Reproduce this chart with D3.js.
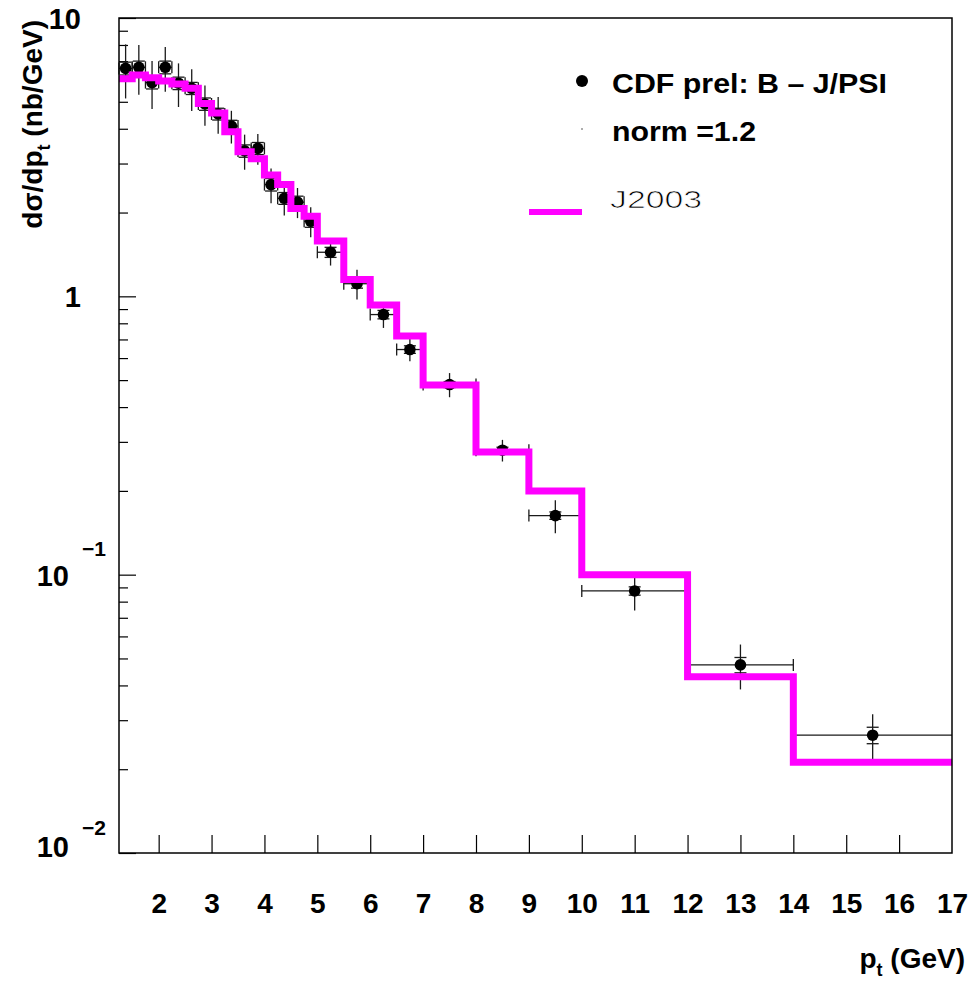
<!DOCTYPE html>
<html>
<head>
<meta charset="utf-8">
<script src="https://cdn.jsdelivr.net/npm/d3@7"></script>
<style>
  html, body { margin: 0; padding: 0; background: #fff; }
  svg { display: block; }
  text { font-family: "Liberation Sans", Arial, Helvetica, sans-serif; fill: #000; }
</style>
</head>
<body>
<svg id="chart" width="979" height="988"></svg>
<script>
// pt bin edges (GeV) shared by the measurement and the prediction
const binEdges = [1.25, 1.5, 1.75, 2, 2.25, 2.5, 2.75, 3, 3.25, 3.5, 3.75, 4, 4.25, 4.5, 4.75, 5,
                  5.5, 6, 6.5, 7, 8, 9, 10, 12, 14, 17];

// J2003 prediction, dsigma/dpt (nb/GeV) per bin
const j2003 = [6.05, 6.24, 6.10, 5.94, 5.79, 5.59, 4.93, 4.56, 3.90, 3.31, 3.12, 2.73, 2.52, 2.07, 1.94,
               1.58, 1.15, 0.93, 0.72, 0.48, 0.276, 0.20, 0.10, 0.043, 0.0212];

// CDF preliminary B -> J/psi points
const cdfPt   = [1.375, 1.625, 1.875, 2.125, 2.375, 2.625, 2.875, 3.125, 3.375, 3.625, 3.875, 4.125, 4.375,
                 4.625, 4.875, 5.25, 5.75, 6.25, 6.75, 7.5, 8.5, 9.5, 11, 13, 15.5];
const cdfY    = [6.59, 6.65, 5.86, 6.65, 5.83, 5.59, 4.91, 4.52, 4.09, 3.33, 3.40, 2.52, 2.25, 2.18, 1.86,
                 1.44, 1.11, 0.86, 0.644, 0.482, 0.280, 0.163, 0.0874, 0.0474, 0.0265];
const cdfStat = [0.35, 0.35, 0.30, 0.35, 0.30, 0.28, 0.25, 0.22, 0.20, 0.17, 0.17, 0.13, 0.11, 0.11, 0.09,
                 0.06, 0.04, 0.03, 0.02, 0.012, 0.007, 0.005, 0.003, 0.003, 0.0018];
const cdfTot  = [1.45, 1.35, 1.15, 1.22, 1.04, 0.96, 0.81, 0.68, 0.55, 0.48, 0.43, 0.36, 0.30, 0.27, 0.23,
                 0.15, 0.136, 0.09, 0.06, 0.048, 0.025, 0.022, 0.013, 0.0087, 0.005];

// axis ticks and labels
const xTicks = [2, 3, 4, 5, 6, 7, 8, 9, 10, 11, 12, 13, 14, 15, 16, 17];
const yMajor = [0.01, 0.1, 1, 10];
const yMinor = [0.02, 0.03, 0.04, 0.05, 0.06, 0.07, 0.08, 0.09,
                0.2, 0.3, 0.4, 0.5, 0.6, 0.7, 0.8, 0.9,
                2, 3, 4, 5, 6, 7, 8, 9];
const yLabelBase = ["10", "10", "1", "10"];
const yLabelExp  = ["\u22122", "\u22121", "", ""];

const legendData  = "CDF prel: B \u2013 J/PSI";
const legendNorm  = "norm =1.2";
const legendModel = "J2003";

// ---------------------------------------------------------------
const svg = d3.select("#chart");
const L = 119, R = 952, T = 18, B = 853;

const x = d3.scaleLinear().domain([1.25, 17]).range([L, R]);
const y = d3.scaleLog().domain([0.01, 10]).range([B, T]);

// x axis: ticks pointing into the frame
const xAxis = d3.axisBottom(x)
  .tickValues(xTicks)
  .tickSizeInner(-18)
  .tickSizeOuter(0)
  .tickPadding(40)
  .tickFormat(d3.format("d"));
const gx = svg.append("g").attr("transform", `translate(0,${B})`).call(xAxis);
gx.select(".domain").remove();
gx.selectAll(".tick line").attr("stroke", "#000").attr("stroke-width", 1.2)
  .filter(d => d === 17).remove();
gx.selectAll(".tick text")
  .attr("font-size", 28).attr("font-weight", "bold")
  .attr("font-family", "'Liberation Sans', Arial, sans-serif");

// y axis: long decade ticks, short minor ticks
const yAxisMajor = d3.axisLeft(y).tickValues(yMajor).tickSizeInner(-17).tickSizeOuter(0).tickFormat("");
const yAxisMinor = d3.axisLeft(y).tickValues(yMinor).tickSizeInner(-9).tickSizeOuter(0).tickFormat("");
const gy1 = svg.append("g").attr("transform", `translate(${L},0)`).call(yAxisMajor);
const gy2 = svg.append("g").attr("transform", `translate(${L},0)`).call(yAxisMinor);
[gy1, gy2].forEach(g => {
  g.select(".domain").remove();
  g.selectAll(".tick line").attr("stroke", "#000").attr("stroke-width", 1.2);
});

// y tick labels, with raised exponents for the sub-unit decades
const yLab = svg.append("g").attr("class", "ylabels");
yMajor.forEach((v, i) => {
  const base = yLabelBase[i], exp = yLabelExp[i];
  if (exp) {
    const dyBase = v === 0.01 ? 4 : 11;
    const dyExp  = v === 0.01 ? -22 : -30;
    yLab.append("text")
      .attr("x", 69).attr("y", y(v) + dyBase)
      .attr("text-anchor", "end")
      .attr("font-size", 29).attr("font-weight", "bold")
      .text(base);
    yLab.append("text")
      .attr("x", 82).attr("y", y(v) + dyBase + dyExp)
      .attr("font-size", 21).attr("font-weight", "bold")
      .text(exp);
  } else {
    yLab.append("text")
      .attr("x", 81).attr("y", y(v) + 10.5)
      .attr("text-anchor", "end")
      .attr("font-size", 29).attr("font-weight", "bold")
      .text(base);
  }
});

// axis titles
const xt = svg.append("text")
  .attr("x", 965).attr("y", 968)
  .attr("text-anchor", "end")
  .attr("font-size", 28).attr("font-weight", "bold");
xt.append("tspan").text("p");
xt.append("tspan").attr("font-size", 18).attr("dy", 8).text("t");
xt.append("tspan").attr("dy", -8).text(" (GeV)");

const yt = svg.append("text")
  .attr("transform", "translate(42,20) rotate(-90)")
  .attr("text-anchor", "end")
  .attr("font-size", 28).attr("font-weight", "bold");
yt.append("tspan").text("d\u03c3/dp");
yt.append("tspan").attr("font-size", 18).attr("dy", 8).text("t");
yt.append("tspan").attr("dy", -8).text(" (nb/GeV)");

// ---------------------------------------------------------------
// measurement: error bars then markers
const plot = svg.append("g");
const pts = cdfPt.map((p, i) => ({
  p, v: cdfY[i], s: cdfStat[i], t: cdfTot[i], lo: binEdges[i], hi: binEdges[i + 1]
}));
const cap = 6;
const eb = plot.append("g").attr("stroke", "#1a1a1a").attr("stroke-width", 1.3).attr("fill", "none");
pts.forEach(d => {
  const cx = x(d.p), cy = y(d.v);
  // horizontal bin-width bar with end ticks
  eb.append("line").attr("x1", x(d.lo)).attr("x2", x(d.hi)).attr("y1", cy).attr("y2", cy);
  eb.append("line").attr("x1", x(d.lo)).attr("x2", x(d.lo)).attr("y1", cy - cap).attr("y2", cy + cap);
  if (d.hi < 17)
    eb.append("line").attr("x1", x(d.hi)).attr("x2", x(d.hi)).attr("y1", cy - cap).attr("y2", cy + cap);
  // total uncertainty
  eb.append("line").attr("x1", cx).attr("x2", cx).attr("y1", y(d.v + d.t)).attr("y2", y(d.v - d.t));
  // statistical uncertainty with caps
  eb.append("line").attr("x1", cx - cap).attr("x2", cx + cap).attr("y1", y(d.v + d.s)).attr("y2", y(d.v + d.s));
  eb.append("line").attr("x1", cx - cap).attr("x2", cx + cap).attr("y1", y(d.v - d.s)).attr("y2", y(d.v - d.s));
});
plot.append("g").selectAll("circle").data(pts).join("circle")
  .attr("cx", d => x(d.p)).attr("cy", d => y(d.v)).attr("r", 5.8).attr("fill", "#000");

// prediction histogram drawn as a step line
const steps = j2003.map((v, i) => [binEdges[i], v]);
steps.push([binEdges[binEdges.length - 1], j2003[j2003.length - 1]]);
const stepLine = d3.line().x(d => x(d[0])).y(d => y(d[1])).curve(d3.curveStepAfter);
plot.append("path")
  .attr("d", stepLine(steps))
  .attr("fill", "none").attr("stroke", "#ff00ff").attr("stroke-width", 7)
  .attr("stroke-linejoin", "miter").attr("stroke-linecap", "butt");

// frame
svg.append("rect").attr("x", L).attr("y", T).attr("width", R - L).attr("height", B - T)
  .attr("fill", "none").attr("stroke", "#000").attr("stroke-width", 1.5);

// ---------------------------------------------------------------
// legend
const lg = svg.append("g");
lg.append("circle").attr("cx", 582).attr("cy", 81).attr("r", 6).attr("fill", "#000");
lg.append("text").attr("x", 612).attr("y", 93)
  .attr("font-size", 28).attr("font-weight", "bold")
  .attr("textLength", 275).attr("lengthAdjust", "spacingAndGlyphs")
  .text(legendData);
lg.append("circle").attr("cx", 582).attr("cy", 129).attr("r", 0.8).attr("fill", "#444");
lg.append("text").attr("x", 612).attr("y", 141)
  .attr("font-size", 28).attr("font-weight", "bold")
  .attr("textLength", 144).attr("lengthAdjust", "spacingAndGlyphs")
  .text(legendNorm);
lg.append("line").attr("x1", 529).attr("x2", 582).attr("y1", 212).attr("y2", 212)
  .attr("stroke", "#ff00ff").attr("stroke-width", 6);
// thin-stroked model label: a white outline pared over the glyphs keeps them hairline
lg.append("text").attr("x", 610).attr("y", 208)
  .attr("font-size", 24).attr("font-weight", 200)
  .attr("font-family", "'DejaVu Sans', sans-serif")
  .attr("textLength", 92).attr("lengthAdjust", "spacingAndGlyphs")
  .attr("fill", "#000")
  .attr("stroke", "#fff").attr("stroke-width", 0.7)
  .attr("paint-order", "fill")
  .text(legendModel);
</script>
</body>
</html>
